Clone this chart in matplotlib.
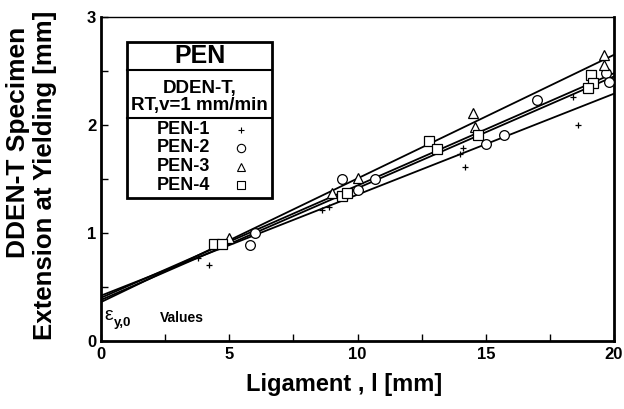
import numpy as np
import matplotlib.pyplot as plt
from matplotlib.patches import Rectangle
from matplotlib.ticker import MultipleLocator

plt.rcParams['font.family'] = ['Liberation Sans', 'DejaVu Sans']
plt.rcParams['font.weight'] = 'bold'

# measured points: ligament l [mm] vs extension at yielding [mm]
pen1_x = [3.8, 4.2, 8.6, 8.9, 14.0, 14.1, 14.2, 18.4, 18.6]
pen1_y = [0.77, 0.70, 1.21, 1.24, 1.73, 1.79, 1.61, 2.26, 2.00]
pen2_x = [5.8, 6.0, 9.4, 10.0, 10.7, 15.0, 15.7, 17.0, 19.7, 19.8]
pen2_y = [0.89, 1.00, 1.50, 1.40, 1.50, 1.82, 1.91, 2.23, 2.48, 2.40]
pen3_x = [5.0, 9.0, 10.0, 14.5, 14.6, 19.6, 19.6]
pen3_y = [0.95, 1.37, 1.51, 2.11, 1.98, 2.65, 2.56]
pen4_x = [4.4, 4.7, 9.4, 9.6, 12.8, 13.1, 14.7, 19.1, 19.2, 19.0]
pen4_y = [0.90, 0.90, 1.34, 1.37, 1.85, 1.78, 1.91, 2.46, 2.39, 2.34]

# linear fits: intercept, slope
fits = {
    "PEN-1": (0.42, 0.0935),
    "PEN-2": (0.38, 0.1035),
    "PEN-3": (0.36, 0.1145),
    "PEN-4": (0.40, 0.104),
}

fig = plt.figure(figsize=(6.24, 4.09), dpi=100)
ax = fig.add_axes([101 / 624, 1 - 341 / 409, 513 / 624, 324 / 409])

xl = np.array([0, 20])
for name, (b, m) in fits.items():
    ax.plot(xl, b + m * xl, color="black", lw=1.3, zorder=2)

ax.plot(pen1_x, pen1_y, "+", color="black", ms=5, mew=0.9, ls="none", zorder=3)
ax.plot(pen2_x, pen2_y, "o", mfc="white", mec="black", ms=7, mew=0.9, ls="none", zorder=3)
ax.plot(pen3_x, pen3_y, "^", mfc="white", mec="black", ms=7, mew=0.9, ls="none", zorder=3)
ax.plot(pen4_x, pen4_y, "s", mfc="white", mec="black", ms=7, mew=0.9, ls="none", zorder=3)

ax.set_xlim(0, 20)
ax.set_ylim(0, 3)
ax.xaxis.set_major_locator(MultipleLocator(5))
ax.xaxis.set_minor_locator(MultipleLocator(2.5))
ax.yaxis.set_major_locator(MultipleLocator(1))
ax.yaxis.set_minor_locator(MultipleLocator(0.5))
ax.tick_params(which="both", direction="in", length=5, width=1, labelsize=12)
ax.tick_params(axis="x", pad=4)
for lbl in ax.get_xticklabels() + ax.get_yticklabels():
    lbl.set_fontweight("bold")
for s in ["left", "bottom", "right"]:
    ax.spines[s].set_linewidth(2)
ax.spines["top"].set_linewidth(1)

ax.set_xlabel("Ligament , l [mm]", fontsize=17, fontweight="bold")
ax.xaxis.set_label_coords((344 - 101) / 513, -(384 - 341) / 324)
ax.xaxis.label.set_va("center")

# y label: two separately placed lines, as in the original
fig.text(18 / 624, 1 - 142 / 409, "DDEN-T Specimen", rotation=90, ha="center", va="center",
         fontsize=19, fontweight="bold")
fig.text(45 / 624, 1 - 175 / 409, "Extension at Yielding [mm]", rotation=90, ha="center",
         va="center", fontsize=18.5, fontweight="bold")

# epsilon_{y,0} Values note
ax.text(0.15, 0.24, "\u03b5", fontsize=14, fontweight="normal", ha="left", va="center")
ax.text(0.5, 0.17, "y,0", fontsize=9.5, fontweight="bold", ha="left", va="center")
ax.text(2.3, 0.21, "Values", fontsize=10, fontweight="bold", ha="left", va="center")

# legend box drawn by hand (pixel positions converted to axes fractions)
def ax_frac(px, py):
    return (px - 101) / 513, (341 - py) / 324

x0, y0 = ax_frac(127, 198)
x1, y1 = ax_frac(272, 42)
ax.add_patch(Rectangle((x0, y0), x1 - x0, y1 - y0, transform=ax.transAxes,
                       fc="white", ec="black", lw=2, zorder=5))
for py in (70, 118):
    _, yy = ax_frac(0, py)
    ax.plot([x0, x1], [yy, yy], transform=ax.transAxes, color="black", lw=1.5, zorder=6)

cx = (x0 + x1) / 2
ax.text(cx, ax_frac(0, 56)[1], "PEN", transform=ax.transAxes, ha="center", va="center",
        fontsize=18, fontweight="bold", zorder=7)
ax.text(cx, ax_frac(0, 97)[1], "DDEN-T,\nRT,v=1 mm/min", transform=ax.transAxes,
        ha="center", va="center", fontsize=13.5, fontweight="bold", linespacing=1.0, zorder=7)

names = ["PEN-1", "PEN-2", "PEN-3", "PEN-4"]
marks = ["+", "o", "^", "s"]
rows = [130, 148, 167, 185]
for nm, mk, py in zip(names, marks, rows):
    yy = ax_frac(0, py)[1]
    ax.text(ax_frac(183, 0)[0], yy, nm, transform=ax.transAxes, ha="center", va="center",
            fontsize=13, fontweight="bold", zorder=7)
    ax.plot([ax_frac(241, 0)[0]], [yy], marker=mk, transform=ax.transAxes, ls="none",
            mfc="white", mec="black", color="black", ms=6 if mk != "+" else 4, mew=0.8, zorder=7)

fig.savefig("out.png", dpi=100)
